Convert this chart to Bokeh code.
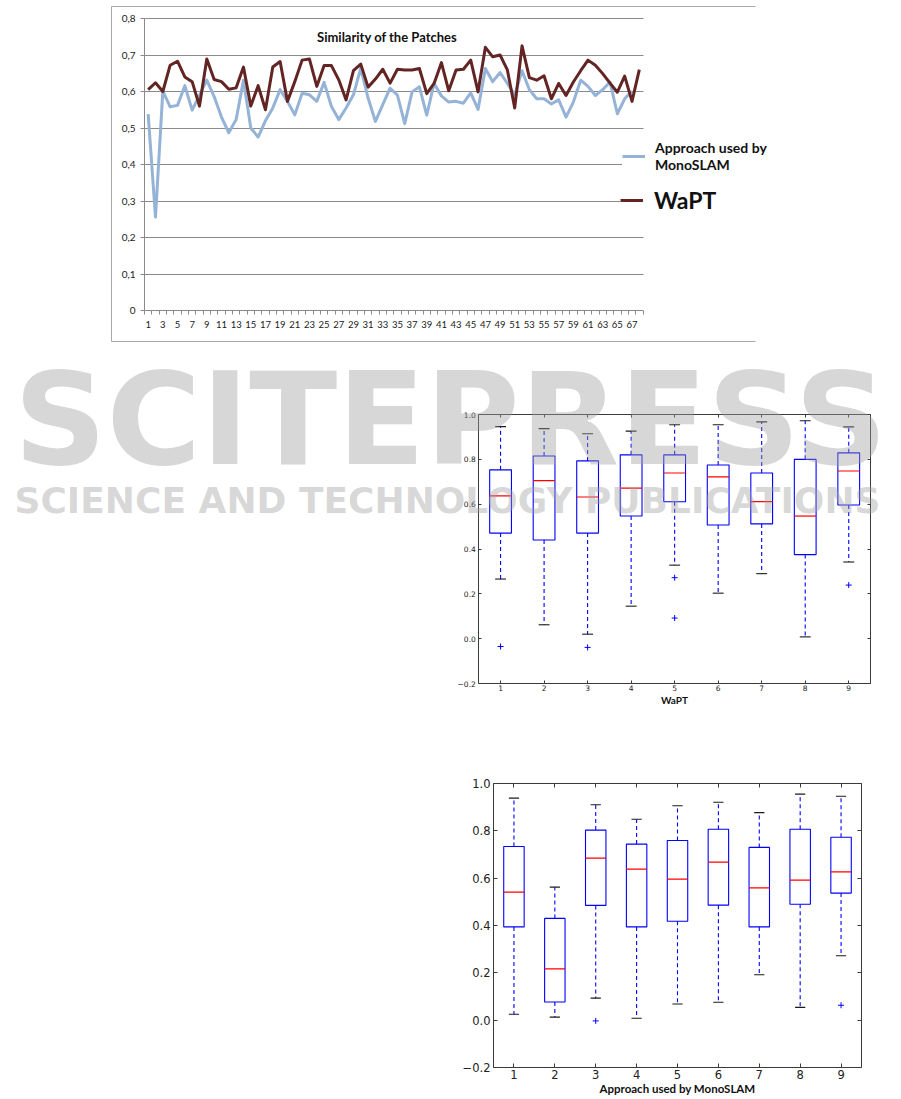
from bokeh.plotting import figure
from bokeh.models import (Range1d, FixedTicker, LinearAxis, Grid, CustomJSTickFormatter,
                          Legend, LegendItem, Label, ColumnDataSource)
from bokeh.embed import file_html
from bokeh.resources import INLINE

# ---------------------------------------------------------------- data
frames = list(range(1, 69))

monoslam_similarity = [
    0.538, 0.256, 0.601, 0.558, 0.562, 0.616, 0.549, 0.590, 0.631, 0.586,
    0.530, 0.487, 0.523, 0.631, 0.500, 0.475, 0.520, 0.555, 0.605, 0.573,
    0.536, 0.595, 0.591, 0.573, 0.625, 0.559, 0.523, 0.555, 0.591, 0.664,
    0.582, 0.518, 0.564, 0.609, 0.590, 0.512, 0.599, 0.613, 0.535, 0.622,
    0.588, 0.571, 0.573, 0.568, 0.596, 0.551, 0.663, 0.627, 0.652, 0.622,
    0.590, 0.657, 0.605, 0.580, 0.580, 0.566, 0.577, 0.530, 0.571, 0.631,
    0.614, 0.589, 0.605, 0.626, 0.539, 0.580, 0.601,
]

wapt_similarity = [
    0.605, 0.624, 0.600, 0.672, 0.683, 0.640, 0.627, 0.560, 0.689, 0.633,
    0.627, 0.606, 0.610, 0.667, 0.560, 0.616, 0.550, 0.667, 0.682, 0.573,
    0.627, 0.686, 0.689, 0.614, 0.671, 0.671, 0.632, 0.577, 0.657, 0.675,
    0.612, 0.634, 0.661, 0.623, 0.661, 0.659, 0.659, 0.663, 0.594, 0.622,
    0.679, 0.602, 0.659, 0.661, 0.686, 0.599, 0.721, 0.695, 0.700, 0.659,
    0.555, 0.725, 0.638, 0.631, 0.643, 0.580, 0.622, 0.589, 0.626, 0.657,
    0.686, 0.672, 0.649, 0.623, 0.598, 0.642, 0.573, 0.660,
]

similarity_ticks = [0.0, 0.1, 0.2, 0.3, 0.4, 0.5, 0.6, 0.7, 0.8]

# box plot statistics, one entry per sequence
sequences = [1, 2, 3, 4, 5, 6, 7, 8, 9]

wapt_low = [0.266, 0.062, 0.020, 0.145, 0.328, 0.203, 0.290, 0.008, 0.342]
wapt_q1 = [0.471, 0.440, 0.471, 0.547, 0.611, 0.507, 0.512, 0.375, 0.596]
wapt_median = [0.637, 0.705, 0.632, 0.672, 0.739, 0.722, 0.611, 0.547, 0.748]
wapt_q3 = [0.753, 0.815, 0.793, 0.820, 0.820, 0.775, 0.739, 0.800, 0.829]
wapt_high = [0.946, 0.937, 0.914, 0.926, 0.954, 0.954, 0.967, 0.972, 0.945]
wapt_outlier_seq = [1, 3, 5, 5, 9]
wapt_outlier_val = [-0.035, -0.039, 0.272, 0.092, 0.239]

mono_low = [0.025, 0.013, 0.093, 0.008, 0.068, 0.076, 0.192, 0.054, 0.272]
mono_q1 = [0.394, 0.077, 0.485, 0.394, 0.418, 0.486, 0.394, 0.490, 0.537]
mono_median = [0.541, 0.217, 0.685, 0.638, 0.596, 0.668, 0.559, 0.592, 0.627]
mono_q3 = [0.734, 0.430, 0.803, 0.744, 0.759, 0.807, 0.730, 0.807, 0.773]
mono_high = [0.938, 0.562, 0.910, 0.849, 0.906, 0.921, 0.877, 0.955, 0.946]
mono_outlier_seq = [3, 9]
mono_outlier_val = [-0.003, 0.063]

box_ticks = [-0.2, 0.0, 0.2, 0.4, 0.6, 0.8, 1.0]

# ---------------------------------------------------------------- styles
EXCEL_GREY = "#8a8a8a"
EXCEL_BORDER = "#a8a8a8"
BLUE_SERIES = "#95b3d7"
RED_SERIES = "#632523"
UI_FONT = "Lato"
MPL_FONT = "DejaVu Sans"
MPL_EDGE = "#3a3a3a"
PAGE_W = 901


def blank():
    return CustomJSTickFormatter(code="return '';")


class PixelMap:
    """Linear map between data values and canvas pixels (y measured downwards)."""

    def __init__(self, v0, v1, p0, p1):
        self.v0, self.p0 = v0, p0
        self.k = (v1 - v0) / (p1 - p0)

    def value(self, px):
        return self.v0 + (px - self.p0) * self.k

    def range(self, lo_px, hi_px):
        a, b = self.value(lo_px), self.value(hi_px)
        return Range1d(min(a, b), max(a, b))


# ---------------------------------------------------------------- line chart
# The frame covers the whole band; the axes are pinned to the plot area so the
# legend and the chart border can sit outside it.
TOP_H = 345
top_x = PixelMap(0.5, 68.5, 144.0, 642.5)
top_y = PixelMap(0.0, 0.8, 310.0, 18.0)

top = figure(width=PAGE_W, height=TOP_H,
             x_range=top_x.range(0, PAGE_W), y_range=top_y.range(TOP_H, 0),
             x_axis_type=None, y_axis_type=None,
             output_backend="svg", toolbar_location=None, min_border=0)
top.outline_line_color = None

# chart-area border (open towards the legend side)
top.multi_line(xs=[[top_x.value(p) for p in (755, 111, 111, 755)]],
               ys=[[top_y.value(p) for p in (6, 6, 341, 341)]],
               line_color=EXCEL_BORDER, line_width=1)

ygrid = Grid(dimension=1, ticker=FixedTicker(ticks=similarity_ticks[1:]),
             grid_line_color=EXCEL_GREY, grid_line_width=1)
if "cross_bounds" in Grid.properties():
    ygrid.cross_bounds = (0.5, 68.5)
    top.add_layout(ygrid)
else:
    top.segment(x0=0.5, x1=68.5, y0=similarity_ticks[1:], y1=similarity_ticks[1:],
                line_color=EXCEL_GREY, line_width=1)

odd_frames = [f for f in frames if f % 2 == 1]
frame_bounds = [f - 0.5 for f in frames] + [frames[-1] + 0.5]
xaxis = LinearAxis(ticker=FixedTicker(ticks=odd_frames, minor_ticks=frame_bounds),
                   fixed_location=0.0, bounds=(0.5, 68.5),
                   major_tick_in=0, major_tick_out=0,
                   minor_tick_in=0, minor_tick_out=4,
                   axis_line_color=EXCEL_GREY, minor_tick_line_color=EXCEL_GREY,
                   major_label_standoff=6,
                   major_label_text_font=UI_FONT, major_label_text_font_size="9.5px",
                   major_label_text_color="#1a1a1a")
top.add_layout(xaxis, "below")

yaxis = LinearAxis(ticker=FixedTicker(ticks=similarity_ticks),
                   fixed_location=0.5, bounds=(0.0, 0.8),
                   formatter=CustomJSTickFormatter(
                       code="return tick == 0 ? '0' : tick.toFixed(1).replace('.', ',');"),
                   major_tick_in=0, major_tick_out=4, minor_tick_in=0, minor_tick_out=0,
                   axis_line_color=EXCEL_GREY, major_tick_line_color=EXCEL_GREY,
                   major_label_standoff=5,
                   major_label_text_font=UI_FONT, major_label_text_font_size="10px",
                   major_label_text_color="#1a1a1a")
top.add_layout(yaxis, "left")

mono_src = ColumnDataSource(dict(frame=frames[:len(monoslam_similarity)],
                                 similarity=monoslam_similarity))
wapt_src = ColumnDataSource(dict(frame=frames, similarity=wapt_similarity))

r_mono = top.line("frame", "similarity", source=mono_src, line_color=BLUE_SERIES,
                  line_width=3, line_join="round")
r_wapt = top.line("frame", "similarity", source=wapt_src, line_color=RED_SERIES,
                  line_width=3, line_join="round")

top.add_layout(Label(x=33.6, y=0.75, text="Similarity of the Patches",
                     text_align="center", text_baseline="middle",
                     text_font=UI_FONT, text_font_style="bold", text_font_size="13px",
                     text_color="#111111"))

legend_mono = Legend(items=[LegendItem(label="Approach used by\nMonoSLAM", renderers=[r_mono])],
                     location=(622, 172), margin=0, padding=10, glyph_width=23,
                     label_standoff=10, border_line_color=None,
                     background_fill_color="white", background_fill_alpha=1.0,
                     label_text_font=UI_FONT, label_text_font_style="bold",
                     label_text_font_size="14px", label_text_color="#111111")
legend_wapt = Legend(items=[LegendItem(label="WaPT", renderers=[r_wapt])],
                     location=(620, 131), margin=0, padding=8, glyph_width=23,
                     label_standoff=11, border_line_color=None,
                     background_fill_color="white", background_fill_alpha=1.0,
                     label_text_font=UI_FONT, label_text_font_style="bold",
                     label_text_font_size="23px", label_text_color="#111111")
top.add_layout(legend_mono)
top.add_layout(legend_wapt)


# ---------------------------------------------------------------- box plots
def add_box_axes(p, label_size, xlabel, xlabel_size, tick_len, fixed, tick_standoff,
                 label_standoff):
    fmt = CustomJSTickFormatter(
        code="return (tick < 0 ? '\\u2212' : '') + Math.abs(tick).toFixed(1);")
    common = dict(major_tick_in=tick_len, major_tick_out=0, minor_tick_in=0,
                  minor_tick_out=0, major_tick_line_color=MPL_EDGE,
                  major_label_text_font=MPL_FONT, major_label_text_color="#222222")
    if fixed:
        common.update(axis_line_color=MPL_EDGE)
        loc = dict(left=dict(fixed_location=0.5, bounds=(-0.2, 1.0)),
                   right=dict(fixed_location=9.5, bounds=(-0.2, 1.0)),
                   below=dict(fixed_location=-0.2, bounds=(0.5, 9.5)),
                   above=dict(fixed_location=1.0, bounds=(0.5, 9.5)))
    else:
        common.update(axis_line_color=None)
        loc = dict(left={}, right={}, below={}, above={})

    p.add_layout(LinearAxis(ticker=FixedTicker(ticks=box_ticks), formatter=fmt,
                            major_label_standoff=3, major_label_text_font_size=label_size,
                            **loc["left"], **common), "left")
    p.add_layout(LinearAxis(ticker=FixedTicker(ticks=box_ticks), formatter=blank(),
                            major_label_standoff=0, **loc["right"], **common), "right")
    p.add_layout(LinearAxis(ticker=FixedTicker(ticks=sequences),
                            major_label_standoff=tick_standoff,
                            major_label_text_font_size=label_size,
                            axis_label=xlabel, axis_label_standoff=label_standoff,
                            axis_label_text_font=UI_FONT,
                            axis_label_text_font_style="bold",
                            axis_label_text_font_size=xlabel_size,
                            axis_label_text_color="#111111",
                            **loc["below"], **common), "below")
    p.add_layout(LinearAxis(ticker=FixedTicker(ticks=sequences), formatter=blank(),
                            major_label_standoff=0, **loc["above"], **common), "above")


def draw_boxes(p, low, q1, med, q3, high, out_seq, out_val):
    src = ColumnDataSource(dict(
        seq=sequences, low=low, q1=q1, med=med, q3=q3, high=high,
        cap_l=[s - 0.125 for s in sequences], cap_r=[s + 0.125 for s in sequences],
        box_l=[s - 0.25 for s in sequences], box_r=[s + 0.25 for s in sequences],
    ))
    p.segment("seq", "q3", "seq", "high", source=src, line_color="#0000ff",
              line_dash="4 3", line_width=1.1)
    p.segment("seq", "q1", "seq", "low", source=src, line_color="#0000ff",
              line_dash="4 3", line_width=1.1)
    p.segment("cap_l", "high", "cap_r", "high", source=src, line_color="#1a1a1a",
              line_width=1.1)
    p.segment("cap_l", "low", "cap_r", "low", source=src, line_color="#1a1a1a",
              line_width=1.1)
    p.vbar(x="seq", width=0.5, bottom="q1", top="q3", source=src,
           fill_color=None, line_color="#0000ff", line_width=1.1)
    p.segment("box_l", "med", "box_r", "med", source=src, line_color="#ff0000",
              line_width=1.2)
    p.scatter(out_seq, out_val, marker="cross", size=6, line_color="#0000ff",
              line_width=1)


# WaPT box plot: the frame covers the whole band of the page so the watermark
# can run across it; the axes are pinned to the box-plot area.
MID_H = 395
mid_x = PixelMap(0.5, 9.5, 478.3, 870.0)
mid_y = PixelMap(-0.2, 1.0, 683.0 - 345, 414.0 - 345)
mid = figure(width=PAGE_W, height=MID_H,
             x_range=mid_x.range(0, PAGE_W), y_range=mid_y.range(MID_H, 0),
             x_axis_type=None, y_axis_type=None,
             output_backend="svg", toolbar_location=None, min_border=0)
mid.outline_line_color = None
add_box_axes(mid, "7.5px", "WaPT", "10px", 3, fixed=True, tick_standoff=1,
             label_standoff=0)
draw_boxes(mid, wapt_low, wapt_q1, wapt_median, wapt_q3, wapt_high,
           wapt_outlier_seq, wapt_outlier_val)

# publisher watermark
mid.add_layout(Label(x=450, y=MID_H - (418 - 345), x_units="screen", y_units="screen",
                     text="SCITEPRESS", text_align="center", text_baseline="middle",
                     text_font="DejaVu Sans", text_font_style="bold",
                     text_font_size="129px", text_color="#a0a0a0", text_alpha=0.42))
mid.add_layout(Label(x=447, y=MID_H - (500 - 345), x_units="screen", y_units="screen",
                     text="SCIENCE AND TECHNOLOGY PUBLICATIONS",
                     text_align="center", text_baseline="middle",
                     text_font="DejaVu Sans", text_font_style="bold",
                     text_font_size="36px", text_color="#a0a0a0", text_alpha=0.42))

# MonoSLAM box plot
bot = figure(width=PAGE_W, height=359,
             x_range=Range1d(0.5, 9.5), y_range=Range1d(-0.2, 1.0),
             x_axis_type=None, y_axis_type=None,
             output_backend="svg", toolbar_location=None,
             min_border_left=493, min_border_right=40,
             min_border_top=43, min_border_bottom=32)
bot.outline_line_color = MPL_EDGE
add_box_axes(bot, "11.5px", "Approach used by MonoSLAM", "11.5px", 4, fixed=False,
             tick_standoff=2, label_standoff=0)
draw_boxes(bot, mono_low, mono_q1, mono_median, mono_q3, mono_high,
           mono_outlier_seq, mono_outlier_val)

# three independent roots, stacked down the page
with open("out.html", "w") as f:
    f.write(file_html([top, mid, bot], INLINE))
